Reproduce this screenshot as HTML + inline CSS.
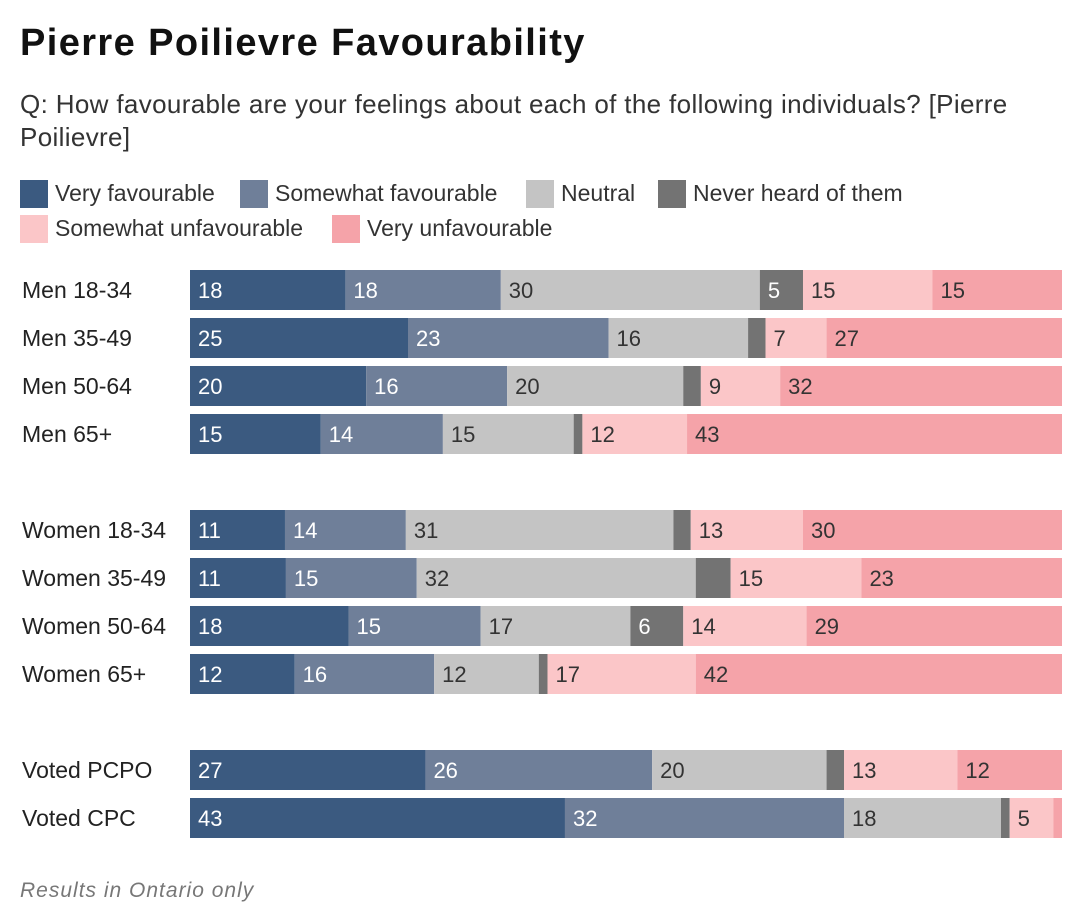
<!DOCTYPE html>
<html><head><meta charset="utf-8">
<style>
body{margin:0;background:#fff;font-family:"Liberation Sans",sans-serif;color:#222;}
#wrap{position:relative;width:1084px;height:914px;overflow:hidden;}
.t{position:absolute;white-space:nowrap;}
.sw{position:absolute;width:28px;height:28px;}
</style></head><body>
<div id="wrap">
<div class="t" style="left:20px;top:22px;font-size:38px;font-weight:bold;color:#111;letter-spacing:1.4px;">Pierre Poilievre Favourability</div>
<div class="t" style="left:20px;top:88px;font-size:26px;line-height:33px;color:#333;white-space:normal;width:1045px;letter-spacing:0.35px;">Q: How favourable are your feelings about each of the following individuals? [Pierre Poilievre]</div>
<div id="legend"></div>
<svg id="chart" width="1084" height="914" style="position:absolute;left:0;top:0"></svg>
<div class="t" style="left:20px;top:879px;font-size:21px;font-style:italic;color:#777;letter-spacing:1px;">Results in Ontario only</div>
</div>
<script>
const categories=["Men 18-34","Men 35-49","Men 50-64","Men 65+","Women 18-34","Women 35-49","Women 50-64","Women 65+","Voted PCPO","Voted CPC"];
const veryFav=[18,25,20,15,11,11,18,12,27,43];
const somewhatFav=[18,23,16,14,14,15,15,16,26,32];
const neutral=[30,16,20,15,31,32,17,12,20,18];
const neverHeard=[5,2,2,1,2,4,6,1,2,1];
const somewhatUnfav=[15,7,9,12,13,15,14,17,13,5];
const veryUnfav=[15,27,32,43,30,23,29,42,12,1];
const seriesNames=["Very favourable","Somewhat favourable","Neutral","Never heard of them","Somewhat unfavourable","Very unfavourable"];
const series=[veryFav,somewhatFav,neutral,neverHeard,somewhatUnfav,veryUnfav];
const colors=["#3b5a80","#6f7f99","#c4c4c4","#737373","#fbc6c8","#f5a3a9"];
const textCol=["#fff","#fff","#333","#fff","#333","#333"];
const rowTops=[270,318,366,414,510,558,606,654,750,798];
const x0=190,x1=1062,bh=40;
const NS="http://www.w3.org/2000/svg";
const svg=document.getElementById('chart');
const leg=document.getElementById('legend');
const legPos=[[20,180],[240,180],[526,180],[658,180],[20,215],[332,215]];
seriesNames.forEach((n,i)=>{
  const s=document.createElement('div');s.className='sw';
  
  
  s.style.left=legPos[i][0]+'px';s.style.top=legPos[i][1]+'px';s.style.background=colors[i];
  leg.appendChild(s);
  const t=document.createElement('div');t.className='t';
  
  
  t.style.left=(legPos[i][0]+35)+'px';t.style.top=(legPos[i][1])+'px';t.style.fontSize='23px';t.style.color='#333';
  t.textContent=n;leg.appendChild(t);
});
categories.forEach((c,r)=>{
  const y=rowTops[r];
  const lab=document.createElementNS(NS,'text');
  
  
  lab.setAttribute('x',22);lab.setAttribute('y',y+bh/2+8);
  lab.setAttribute('font-size','23');lab.setAttribute('fill','#222');lab.textContent=c;svg.appendChild(lab);
  let tot=0;series.forEach(s=>tot+=s[r]);
  const sc=(x1-x0)/tot;let x=x0;
  series.forEach((s,i)=>{
    const w=s[r]*sc;
    const rc=document.createElementNS(NS,'rect');
    
    
    rc.setAttribute('x',x);rc.setAttribute('y',y);rc.setAttribute('width',w);rc.setAttribute('height',bh);rc.setAttribute('fill',colors[i]);
    svg.appendChild(rc);
    if(s[r]>=5){
      const t=document.createElementNS(NS,'text');
      
      
      t.setAttribute('x',x+8);t.setAttribute('y',y+bh/2+8);t.setAttribute('font-size','22');t.setAttribute('fill',textCol[i]);
      t.textContent=s[r];svg.appendChild(t);
    }
    x+=w;
  });
});
</script>
</body></html>
